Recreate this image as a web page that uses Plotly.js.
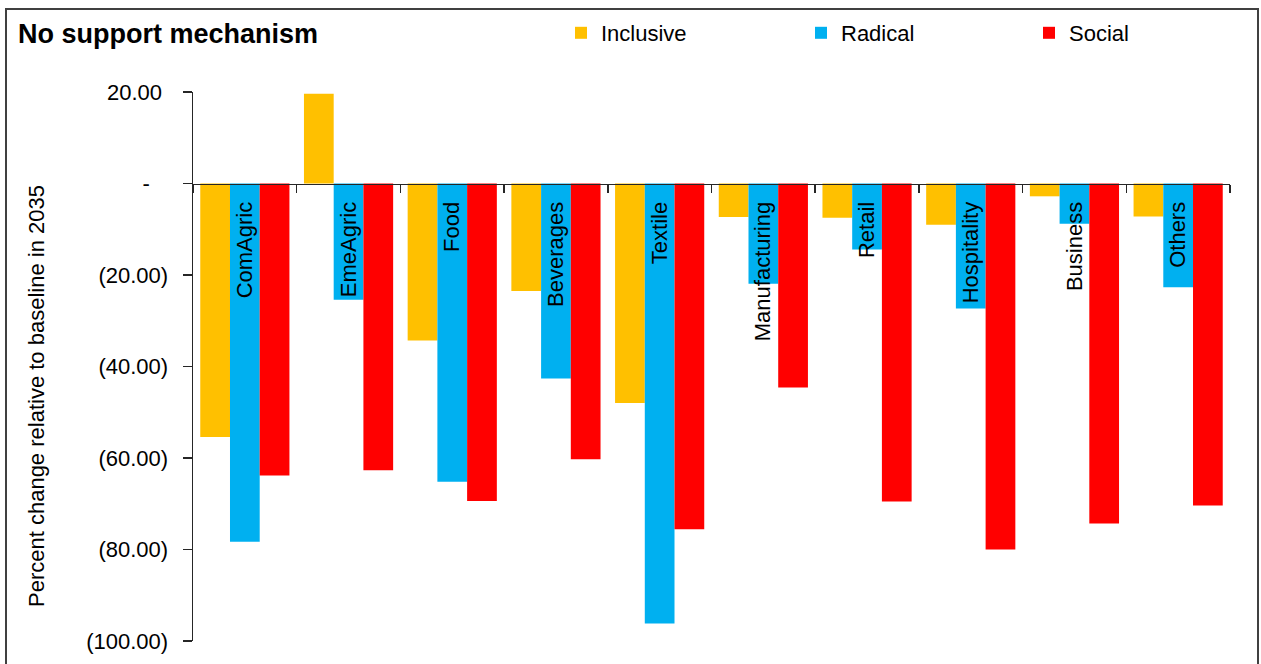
<!DOCTYPE html>
<html>
<head>
<meta charset="utf-8">
<script src="https://cdn.plot.ly/plotly-3.0.1.min.js"></script>
<style>html,body{margin:0;padding:0;background:#fff;}#chart{width:1261px;height:664px;}</style>
</head>
<body>
<div id="chart"></div>
<script>
const categories = ["ComAgric","EmeAgric","Food","Beverages","Textile","Manufacturing","Retail","Hospitality","Business","Others"];
const inclusive = [-55.4, 19.6, -34.3, -23.5, -48.0, -7.3, -7.5, -9.0, -2.8, -7.2];
const radical   = [-78.3, -25.4, -65.2, -42.6, -96.2, -21.9, -14.4, -27.3, -8.8, -22.7];
const social    = [-63.8, -62.7, -69.4, -60.3, -75.6, -44.6, -69.5, -80.0, -74.3, -70.4];
const seriesNames = ["Inclusive","Radical","Social"];
const seriesColors = ["#FFC000","#00B0F0","#FF0000"];
const yTickVals = [20, 0, -20, -40, -60, -80, -100];
const yTickText = ["20.00\u2008", "-\u2007\u2008", "(20.00)", "(40.00)", "(60.00)", "(80.00)", "(100.00)"];
const chartTitle = "No support mechanism";
const yTitle = "Percent change relative to baseline in 2035";

const W = 1261, H = 664;
const L = 193, R = 31, T = 92, B = 23;
const pw = W - L - R, ph = H - T - B;
const px = v => (v - L) / pw;
const py = v => (H - B - v) / ph;

const values = [inclusive, radical, social];
const legendIds = ["legend", "legend2", "legend3"];
const traces = values.map((vals, i) => ({
  type: "bar",
  x: categories,
  y: vals,
  name: seriesNames[i],
  legend: legendIds[i],
  marker: {color: seriesColors[i], line: {width: 0}},
  hoverinfo: "x+y+name"
}));

const font = {family: "Liberation Sans, Arial, sans-serif", size: 22, color: "#000"};
const legendBase = {orientation: "h", xanchor: "left", yanchor: "middle", y: py(33), bgcolor: "rgba(0,0,0,0)", font: font, itemwidth: 30};

const layout = {
  width: W, height: H,
  margin: {l: L, r: R, t: T, b: B, pad: 0},
  paper_bgcolor: "#fff", plot_bgcolor: "#fff",
  font: font,
  showlegend: true,
  title: {text: "<b>" + chartTitle + "</b>", x: 18 / W, xanchor: "left", xref: "container", y: 1 - 34 / H, yanchor: "middle", yref: "container", font: {family: "Liberation Sans, Arial, sans-serif", size: 27, color: "#000"}},
  barmode: "group",
  bargap: 0.14,
  bargroupgap: 0,
  legend: Object.assign({}, legendBase, {x: px(561)}),
  legend2: Object.assign({}, legendBase, {x: px(801)}),
  legend3: Object.assign({}, legendBase, {x: px(1029)}),
  xaxis: {
    type: "category",
    anchor: "free",
    position: 100 / 120,
    showline: true, linecolor: "#262626", linewidth: 1.5,
    ticks: "outside", ticklen: 8, tickwidth: 1.5, tickcolor: "#262626",
    tickson: "boundaries",
    tickangle: -90,
    ticklabelstandoff: 8,
    showgrid: false, zeroline: false,
    tickfont: font,
    fixedrange: true
  },
  yaxis: {
    range: [-100, 20],
    tickvals: yTickVals, ticktext: yTickText,
    showline: true, linecolor: "#262626", linewidth: 1.5,
    ticks: "outside", ticklen: 9, tickwidth: 1.5, tickcolor: "#262626",
    ticklabelstandoff: 10,
    showgrid: false, zeroline: false,
    tickfont: font,
    fixedrange: true
  },
  annotations: [{
    text: yTitle, textangle: -90,
    xref: "paper", yref: "paper",
    x: px(36), y: py(396),
    xanchor: "center", yanchor: "middle",
    showarrow: false, font: font
  }],
  shapes: [{
    type: "rect", xref: "paper", yref: "paper",
    x0: px(6), x1: px(1258), y0: py(680), y1: py(9),
    line: {color: "#404040", width: 2}, fillcolor: "rgba(0,0,0,0)", layer: "below"
  }]
};

Plotly.newPlot("chart", traces, layout, {displayModeBar: false, staticPlot: true});
</script>
</body>
</html>
